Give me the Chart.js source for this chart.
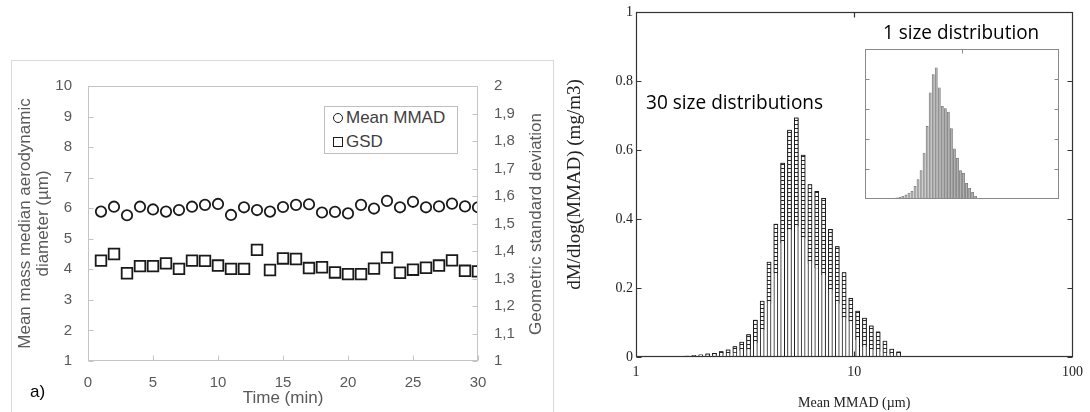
<!DOCTYPE html>
<html>
<head>
<meta charset="utf-8">
<script src="https://cdn.jsdelivr.net/npm/chart.js@4.4.1/dist/chart.umd.min.js"></script>
<style>
  body { margin: 0; width: 1090px; height: 412px; position: relative; background: #fff; overflow: hidden; }
  canvas, .abs { position: absolute; }
  #frame { left: 11px; top: 60px; width: 541px; height: 400px; border: 1px solid #d9d9d9; box-sizing: content-box; }
  #legend { left: 324px; top: 106px; width: 134px; height: 48px; border: 1px solid #bfbfbf; box-sizing: border-box; background: #fff; }
  #legend .txt { position: absolute; left: 21px; font: 17px "Liberation Sans", Arial, sans-serif; color: #404040; line-height: 20px; white-space: nowrap; }
  #legend .mk { position: absolute; box-sizing: border-box; border: 1.6px solid #1a1a1a; }
  .note { font-family: "Open Sans", "Noto Sans", sans-serif; font-size: 20px; line-height: 24px; color: #000; white-space: nowrap; transform-origin: left center; }
</style>
</head>
<body>
<div id="frame" class="abs"></div>
<canvas id="timeChart" width="542" height="352" style="left:11px; top:60px"></canvas>
<div id="legend" class="abs">
  <div class="mk" style="left:7.5px; top:5.7px; width:10px; height:10px; border-radius:50%"></div>
  <div class="txt" style="top:0.7px">Mean MMAD</div>
  <div class="mk" style="left:7.5px; top:29.7px; width:10px; height:10px"></div>
  <div class="txt" style="top:24.7px">GSD</div>
</div>
<div class="abs" id="gsdTitle" style="left:535.7px; top:223.5px; font:17px 'Liberation Sans', Arial, sans-serif; color:#595959; white-space:nowrap; transform:translate(-50%,-50%) rotate(-90deg);">Geometric standard deviation</div>
<div class="abs" style="left:30px; top:381.7px; font:17px 'Liberation Sans', Arial, sans-serif; line-height:20px; color:#000">a)</div>

<canvas id="distChart" width="530" height="412" style="left:560px; top:0px"></canvas>
<canvas id="insetChart" width="196" height="152" style="left:864px; top:48px"></canvas>
<div class="abs note" id="note30" style="left:645.7px; top:89.7px">30 size distributions</div>
<div class="abs note" id="note1" style="left:883px; top:19.7px">1 size distribution</div>

<script>
// panel a) - time series
const timeMin = [1, 2, 3, 4, 5, 6, 7, 8, 9, 10, 11, 12, 13, 14, 15, 16, 17, 18, 19, 20, 21, 22, 23, 24, 25, 26, 27, 28, 29, 30];
const meanMmad = [5.89, 6.05, 5.77, 6.05, 5.96, 5.89, 5.94, 6.05, 6.11, 6.14, 5.78, 6.03, 5.94, 5.89, 6.04,
                  6.11, 6.13, 5.86, 5.88, 5.83, 6.11, 5.99, 6.24, 6.03, 6.21, 6.03, 6.06, 6.15, 6.06, 6.03];
const gsd = [1.365, 1.389, 1.319, 1.345, 1.345, 1.355, 1.335, 1.365, 1.364, 1.347, 1.335, 1.335, 1.404, 1.331, 1.373,
             1.371, 1.338, 1.341, 1.322, 1.316, 1.316, 1.336, 1.376, 1.321, 1.332, 1.339, 1.347, 1.366, 1.328, 1.326];

// size distributions - bin centres (um), 32 bins per decade
const binCenters = [1.486, 1.597, 1.715, 1.843, 1.981, 2.129, 2.288, 2.458, 2.642, 2.839, 3.051, 3.279,
                    3.523, 3.786, 4.069, 4.373, 4.699, 5.050, 5.427, 5.832, 6.267, 6.735, 7.237, 7.777,
                    8.358, 8.982, 9.647, 10.366, 11.140, 11.971, 12.865, 13.825, 14.855, 15.966];
// highest and lowest of the 30 distributions in each bin
const distMax = [0.002, 0.002, 0.003, 0.005, 0.006, 0.009, 0.011, 0.016, 0.021, 0.030, 0.043, 0.065,
                 0.107, 0.162, 0.275, 0.385, 0.562, 0.658, 0.693, 0.585, 0.500, 0.480, 0.460, 0.370,
                 0.320, 0.245, 0.170, 0.133, 0.113, 0.090, 0.073, 0.046, 0.023, 0.015];
const distMin = [0.001, 0.001, 0.0015, 0.0025, 0.003, 0.004, 0.005, 0.007, 0.009, 0.012, 0.018, 0.022,
                 0.040, 0.078, 0.156, 0.243, 0.330, 0.368, 0.378, 0.344, 0.270, 0.257, 0.238, 0.194,
                 0.154, 0.112, 0.102, 0.049, 0.030, 0.020, 0.015, 0.012, 0.008, 0.006];
// single distribution (inset)
const insetCenters = [1.597, 1.715, 1.843, 1.981, 2.129, 2.288, 2.458, 2.642, 2.839, 3.051, 3.279,
                      3.523, 3.786, 4.069, 4.373, 4.699, 5.050, 5.427, 5.832, 6.267, 6.735, 7.237, 7.777,
                      8.358, 8.982, 9.647, 10.366, 11.140, 11.971, 12.865, 13.825, 14.855, 15.966];
const insetValues = [0.001, 0.002, 0.002, 0.004, 0.007, 0.011, 0.018, 0.027, 0.040, 0.051, 0.085,
                     0.129, 0.190, 0.306, 0.484, 0.708, 0.830, 0.875, 0.741, 0.618, 0.603, 0.580, 0.469,
                     0.335, 0.272, 0.190, 0.172, 0.105, 0.071, 0.045, 0.018, 0.004, 0.001];

const grayText = '#595959';

// plot frame with short inward tick marks (config kept in a closure)
function frameTicks(cfg) {
  return {
    id: 'frameTicks',
    afterDatasetsDraw(chart) {
      const { ctx, chartArea: a } = chart;
      const l = Math.round(a.left) + 0.5, r = Math.round(a.right) - 0.5;
      const t = Math.round(a.top) + 0.5, b = Math.round(a.bottom) - 0.5;
      ctx.save();
      ctx.strokeStyle = cfg.color;
      ctx.lineWidth = cfg.width;
      ctx.strokeRect(l, t, r - l, b - t);
      ctx.beginPath();
      cfg.marks.forEach(m => {
        const scale = chart.scales[m.axis];
        const vals = m.values ? m.values : scale.ticks.map(tk => tk.value);
        vals.forEach(v => {
          const p = Math.round(scale.getPixelForValue(v)) + 0.5;
          m.sides.forEach(side => {
            if (side === 'left') { ctx.moveTo(l, p); ctx.lineTo(l + cfg.len, p); }
            if (side === 'right') { ctx.moveTo(r, p); ctx.lineTo(r - cfg.len, p); }
            if (side === 'top') { ctx.moveTo(p, t); ctx.lineTo(p, t + cfg.len); }
            if (side === 'bottom') { ctx.moveTo(p, b); ctx.lineTo(p, b - cfg.len); }
          });
        });
      });
      ctx.stroke();
      ctx.restore();
    }
  };
}

// Left chart: MMAD and GSD over time
new Chart(document.getElementById('timeChart'), {
  type: 'scatter',
  data: {
    datasets: [
      {
        label: 'Mean MMAD', yAxisID: 'y',
        data: timeMin.map((t, i) => ({ x: t, y: meanMmad[i] })),
        pointStyle: 'circle', pointRadius: 5.2, pointBorderWidth: 1.8,
        pointBorderColor: '#1a1a1a', pointBackgroundColor: '#fff'
      },
      {
        label: 'GSD', yAxisID: 'y2',
        data: timeMin.map((t, i) => ({ x: t, y: gsd[i] })),
        pointStyle: 'rect', pointRadius: 7.5, pointBorderWidth: 1.8,
        pointBorderColor: '#1a1a1a', pointBackgroundColor: '#fff'
      }
    ]
  },
  options: {
    responsive: false, animation: false, devicePixelRatio: 1,
    layout: { padding: { top: 26, left: 0, right: 0, bottom: 0 } },
    plugins: { legend: { display: false }, tooltip: { enabled: false } },
    scales: {
      x: {
        type: 'linear', min: 0, max: 30,
        grid: { display: false, drawTicks: false }, border: { display: false },
        ticks: { stepSize: 5, padding: 13, color: grayText, font: { family: 'Liberation Sans', size: 15 } },
        title: { display: true, text: 'Time (min)', color: grayText, font: { family: 'Liberation Sans', size: 17 }, padding: { top: 0, bottom: 3 } },
        afterFit: s => { s.height = 51; }
      },
      y: {
        position: 'left', min: 1, max: 10,
        grid: { display: false, drawTicks: false }, border: { display: false },
        ticks: { stepSize: 1, padding: 16, color: grayText, font: { family: 'Liberation Sans', size: 15 } },
        title: {
          display: true, text: ['Mean mass median aerodynamic', 'diameter (µm)'], color: grayText,
          font: { family: 'Liberation Sans', size: 17, lineHeight: '18px' }, padding: { top: 5, bottom: 0 }
        },
        afterFit: s => { s.width = 77; }
      },
      y2: {
        position: 'right', min: 1, max: 2,
        grid: { display: false, drawTicks: false }, border: { display: false },
        ticks: {
          stepSize: 0.1, padding: 16, color: grayText, font: { family: 'Liberation Sans', size: 15 },
          callback: v => {
            const r = Math.round(v * 10) / 10;
            return Number.isInteger(r) ? String(r) : r.toFixed(1).replace('.', ',');
          }
        },
        afterFit: s => { s.width = 75; }
      }
    }
  },
  plugins: [frameTicks({
    color: '#c4c4c4', width: 1, len: 5,
    marks: [{ axis: 'y', sides: ['left'] }, { axis: 'y2', sides: ['right'] }, { axis: 'x', sides: ['bottom'] }]
  })]
});

// hatch fill for the spread of the 30 distributions
function makeDashPattern() {
  const c = document.createElement('canvas');
  c.width = 4; c.height = 4;
  const g = c.getContext('2d');
  g.fillStyle = '#fff';
  g.fillRect(0, 0, 4, 4);
  g.fillStyle = '#2a2a2a';
  g.fillRect(0, 0, 4, 1);
  return g.createPattern(c, 'repeat');
}

const serif = 'Liberation Serif';
const decadeLabel = v => {
  const lg = Math.log10(v);
  return Math.abs(lg - Math.round(lg)) < 1e-9 ? String(Math.round(v)) : null;
};

// Right chart: 30 size distributions
new Chart(document.getElementById('distChart'), {
  type: 'bar',
  data: {
    datasets: [
      {
        label: 'spread', grouped: false, barThickness: 4,
        data: binCenters.map((x, i) => ({ x, y: [distMin[i], distMax[i]] })),
        backgroundColor: makeDashPattern(), borderColor: '#1a1a1a', borderWidth: 1
      },
      {
        label: 'max', grouped: false, barThickness: 4,
        data: binCenters.map((x, i) => ({ x, y: distMax[i] })),
        backgroundColor: '#fff', borderColor: '#1a1a1a', borderWidth: 1
      }
    ]
  },
  options: {
    responsive: false, animation: false, devicePixelRatio: 1,
    layout: { padding: { top: 12, right: 17, left: 0, bottom: 0 } },
    plugins: { legend: { display: false }, tooltip: { enabled: false } },
    scales: {
      x: {
        type: 'logarithmic', min: 1, max: 100, offset: false,
        grid: { display: false, drawTicks: false }, border: { display: false },
        ticks: { autoSkip: false, maxRotation: 0, padding: 7, color: '#222', font: { family: serif, size: 14 }, callback: decadeLabel },
        title: { display: true, text: 'Mean MMAD (µm)', color: '#222', font: { family: serif, size: 14 }, padding: { top: 0, bottom: 0 } },
        afterFit: s => { s.height = 55; }
      },
      y: {
        min: 0, max: 1,
        grid: { display: false, drawTicks: false }, border: { display: false },
        ticks: {
          stepSize: 0.2, padding: 3, color: '#222', font: { family: serif, size: 14 },
          callback: v => String(Math.round(v * 10) / 10)
        },
        title: { display: true, text: 'dM/dlog(MMAD) (mg/m3)', color: '#222', font: { family: serif, size: 19 }, padding: { top: 4, bottom: 0 } },
        afterFit: s => { s.width = 76; }
      }
    }
  },
  plugins: [frameTicks({
    color: '#333', width: 1.2, len: 5,
    marks: [{ axis: 'y', sides: ['left', 'right'] }, { axis: 'x', sides: ['top', 'bottom'], values: [10] }]
  })]
});

// Inset: one size distribution
new Chart(document.getElementById('insetChart'), {
  type: 'bar',
  data: {
    datasets: [{
      label: 'one', barThickness: 2.2,
      data: insetCenters.map((x, i) => ({ x, y: insetValues[i] })),
      backgroundColor: '#b0b0b0', borderColor: '#6e6e6e', borderWidth: 0.6
    }]
  },
  options: {
    responsive: false, animation: false, devicePixelRatio: 1,
    layout: { padding: 1 },
    plugins: { legend: { display: false }, tooltip: { enabled: false } },
    scales: {
      x: { type: 'logarithmic', min: 1, max: 100, offset: false, display: false },
      y: { min: 0, max: 1, display: false, ticks: { stepSize: 0.2 } }
    }
  },
  plugins: [frameTicks({
    color: '#8a8a8a', width: 1, len: 4,
    marks: [{ axis: 'y', sides: ['left', 'right'], values: [0.2, 0.4, 0.6, 0.8] }, { axis: 'x', sides: ['top', 'bottom'], values: [10] }]
  })]
});

// squeeze the annotation texts to their width in the figure
function fitWidth(id, w) {
  const el = document.getElementById(id);
  el.style.transform = 'scaleX(' + (w / el.offsetWidth) + ')';
}
fitWidth('note30', 177);
fitWidth('note1', 156);
</script>
</body>
</html>
